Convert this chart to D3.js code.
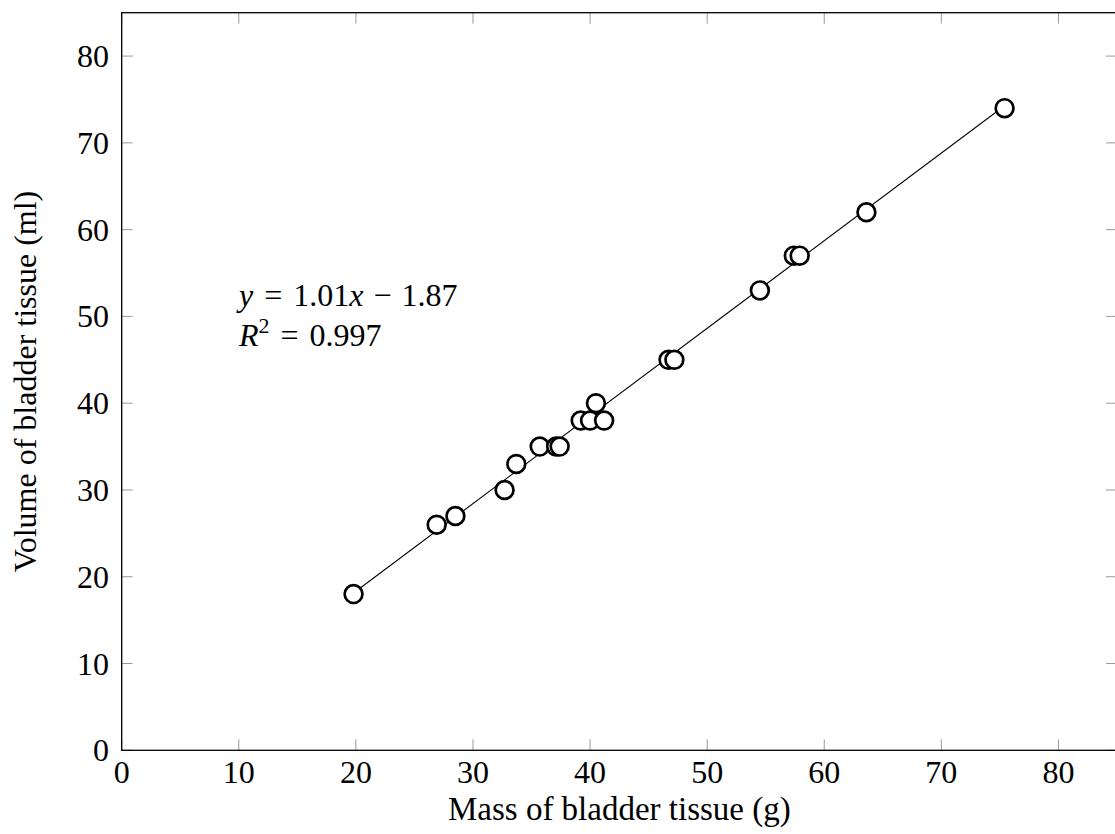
<!DOCTYPE html>
<html lang="en">
<head>
    <meta charset="utf-8">
    <title>Bladder tissue</title>
    <style>
        body { margin: 0; background: #fff; }
        text { font-family: "Liberation Serif", "DejaVu Serif", serif; fill: #000; }
    </style>
</head>
<body>
    <svg id="chart" width="1115" height="834"></svg>

    <script src="https://d3js.org/d3.v7.min.js"></script>
    <script>
        const mass = [19.8, 26.9, 28.5, 32.7, 33.7, 35.7, 37.1, 37.4, 39.2, 40.0, 41.2, 40.5,
            46.7, 47.2, 54.5, 57.4, 57.9, 63.6, 75.4]
        const volume = [18, 26, 27, 30, 33, 35, 35, 35, 38, 38, 38, 40,
            45, 45, 53, 57, 57, 62, 74]

        const slope = 1.01
        const intercept = -1.87
        const fitLabel = "1.01"
        const fitOffset = "1.87"
        const r2Label = "0.997"

        const xTicks = [0, 10, 20, 30, 40, 50, 60, 70, 80]
        const yTicks = [0, 10, 20, 30, 40, 50, 60, 70, 80]

        const svg = d3.select("#chart")

        const x = d3.scaleLinear().domain([0, 85]).range([121.7, 1117])
        const y = d3.scaleLinear().domain([0, 85]).range([750.3, 12.7])

        const pLeft = x(0), pRight = x(85), pTop = y(85), pBottom = y(0)
        const tickLen = 11

        // inward grey ticks on all four sides
        const ticks = svg.append("g").attr("stroke", "#9a9a9a").attr("stroke-width", 1)
        xTicks.forEach(t => {
            ticks.append("line").attr("x1", x(t)).attr("x2", x(t)).attr("y1", pBottom).attr("y2", pBottom - tickLen)
            ticks.append("line").attr("x1", x(t)).attr("x2", x(t)).attr("y1", pTop).attr("y2", pTop + tickLen)
        })
        yTicks.forEach(t => {
            ticks.append("line").attr("y1", y(t)).attr("y2", y(t)).attr("x1", pLeft).attr("x2", pLeft + tickLen)
            ticks.append("line").attr("y1", y(t)).attr("y2", y(t)).attr("x1", pRight).attr("x2", pRight - tickLen)
        })

        // frame
        svg.append("rect")
            .attr("x", pLeft).attr("y", pTop)
            .attr("width", pRight - pLeft).attr("height", pBottom - pTop)
            .attr("fill", "none").attr("stroke", "#000").attr("stroke-width", 1.3)

        // tick labels
        svg.append("g").selectAll("text").data(xTicks).join("text")
            .attr("x", d => x(d)).attr("y", 783)
            .attr("text-anchor", "middle").attr("font-size", 32)
            .text(d => d)

        svg.append("g").selectAll("text").data(yTicks).join("text")
            .attr("x", 109).attr("y", d => y(d) + 11)
            .attr("text-anchor", "end").attr("font-size", 32)
            .text(d => d)

        // axis titles
        svg.append("text")
            .attr("x", x(42.5)).attr("y", 820)
            .attr("text-anchor", "middle").attr("font-size", 33)
            .text("Mass of bladder tissue (g)")

        svg.append("text")
            .attr("transform", `translate(36,${y(42.5)}) rotate(-90)`)
            .attr("text-anchor", "middle").attr("font-size", 32)
            .text("Volume of bladder tissue (ml)")

        // regression line
        const x0 = d3.min(mass), x1 = d3.max(mass)
        svg.append("line")
            .attr("x1", x(x0)).attr("y1", y(slope * x0 + intercept))
            .attr("x2", x(x1)).attr("y2", y(slope * x1 + intercept))
            .attr("stroke", "#000").attr("stroke-width", 1.1)

        // points
        svg.append("g").selectAll("circle").data(mass).join("circle")
            .attr("cx", d => x(d))
            .attr("cy", (d, i) => y(volume[i]))
            .attr("r", 8.9)
            .attr("fill", "#fff").attr("stroke", "#000").attr("stroke-width", 2.7)

        // fit annotation (math-style spacing round the operators)
        const eq = svg.append("text").attr("x", 239).attr("y", 306).attr("font-size", 32)
        eq.append("tspan").attr("font-style", "italic").text("y")
        eq.append("tspan").attr("dx", 11).text("=")
        eq.append("tspan").attr("dx", 11).text(fitLabel)
        eq.append("tspan").attr("font-style", "italic").text("x")
        eq.append("tspan").attr("dx", 10).text("\u2212")
        eq.append("tspan").attr("dx", 10).text(fitOffset)

        const r2 = svg.append("text").attr("x", 239).attr("y", 346).attr("font-size", 32)
        r2.append("tspan").attr("font-style", "italic").text("R")
        r2.append("tspan").attr("font-size", 22).attr("dy", -13).text("2")
        r2.append("tspan").attr("dy", 13).attr("dx", 11).text("=")
        r2.append("tspan").attr("dx", 11).text(r2Label)
    </script>
</body>
</html>
